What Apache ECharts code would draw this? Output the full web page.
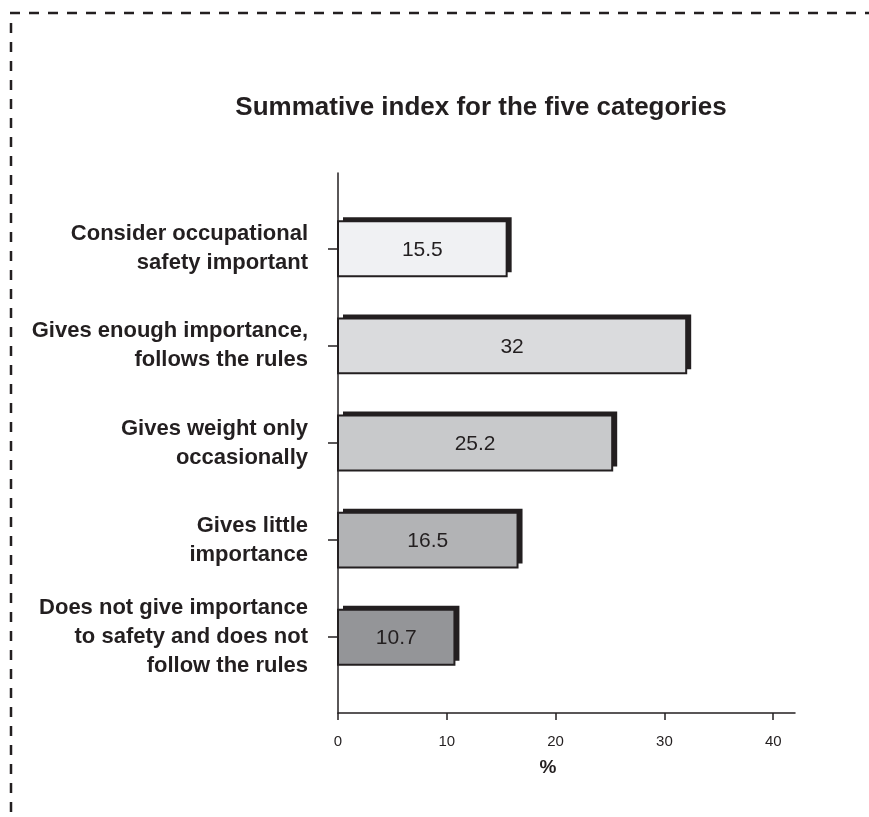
<!DOCTYPE html>
<html>
<head>
<meta charset="utf-8">
<script src="https://cdn.jsdelivr.net/npm/echarts@6/dist/echarts.min.js"></script>
<style>
html,body{margin:0;padding:0;background:#fff;}
#chart{width:869px;height:817px;}
</style>
</head>
<body>
<div id="chart"></div>
<script>
const categories = [
  "Consider occupational\nsafety important",
  "Gives enough importance,\nfollows the rules",
  "Gives weight only\noccasionally",
  "Gives little\nimportance",
  "Does not give importance\nto safety and does not\nfollow the rules"
];
const values = [15.5, 32, 25.2, 16.5, 10.7];
const xTicks = [0, 10, 20, 30, 40];
const barColors = ["#f0f1f3", "#dadbdd", "#c8c9cb", "#b2b3b5", "#949598"];

const FONT = "'Liberation Sans', Arial, Helvetica, sans-serif";
const INK = "#231f20";

const chart = echarts.init(document.getElementById('chart'), null, {renderer: 'canvas'});

function renderItem(params, api) {
  const v = api.value(0), idx = api.value(1);
  const p0 = api.coord([0, idx]);
  const p1 = api.coord([v, idx]);
  const h = api.size([0, 1])[1] * 0.566;
  const x = p0[0], y = p0[1] - h / 2, w = p1[0] - p0[0];
  return {
    type: 'group',
    children: [
      {type: 'rect', shape: {x: x + 5, y: y - 4, width: w, height: h}, style: {fill: INK}},
      {type: 'rect', shape: {x: x, y: y, width: w, height: h},
        style: {fill: barColors[idx], stroke: INK, lineWidth: 2}},
      {type: 'text', style: {text: String(v), x: x + w / 2, y: p0[1] + 1, align: 'center',
        verticalAlign: 'middle', fontSize: 21, fontFamily: FONT, fill: INK}}
    ]
  };
}

chart.setOption({
  animation: false,
  backgroundColor: '#fff',
  grid: {left: 338, top: 173, right: 74, bottom: 104, containLabel: false},
  xAxis: {
    type: 'value', min: 0, max: 42, interval: 10,
    splitLine: {show: false},
    axisLine: {show: true, onZero: false, lineStyle: {color: INK, width: 1.5}},
    axisTick: {show: true, length: 7, customValues: xTicks, lineStyle: {color: INK, width: 1.5}},
    axisLabel: {customValues: xTicks, margin: 21, fontSize: 15, fontFamily: FONT, color: INK}
  },
  yAxis: {
    type: 'value', inverse: true, min: -0.78, max: 4.78,
    splitLine: {show: false},
    axisLine: {show: true, onZero: false, lineStyle: {color: INK, width: 1.5}},
    axisTick: {show: true, length: 10, customValues: [0, 1, 2, 3, 4], lineStyle: {color: INK, width: 1.5}},
    axisLabel: {
      customValues: [0, 1, 2, 3, 4], margin: 30,
      formatter: function (v) { return categories[Math.round(v)] || ''; },
      fontSize: 22, fontWeight: 'bold', fontFamily: FONT, color: INK, lineHeight: 29, align: 'right'
    }
  },
  series: [{
    type: 'custom',
    renderItem: renderItem,
    encode: {x: 0, y: 1},
    data: values.map(function (v, i) { return [v, i]; })
  }],
  graphic: [
    {type: 'line', shape: {x1: 10, y1: 13, x2: 869, y2: 13}, style: {stroke: INK, lineWidth: 2.5, lineDash: [10, 9]}},
    {type: 'line', shape: {x1: 11, y1: 23, x2: 11, y2: 812}, style: {stroke: INK, lineWidth: 2.5, lineDash: [10, 9]}},
    {type: 'text', x: 481, y: 108, style: {text: 'Summative index for the five categories', align: 'center',
      verticalAlign: 'middle', fontSize: 26, fontWeight: 'bold', fontFamily: FONT, fill: INK}},
    {type: 'text', x: 548, y: 768, style: {text: '%', align: 'center', verticalAlign: 'middle',
      fontSize: 19, fontWeight: 'bold', fontFamily: FONT, fill: INK}}
  ]
});
</script>
</body>
</html>
